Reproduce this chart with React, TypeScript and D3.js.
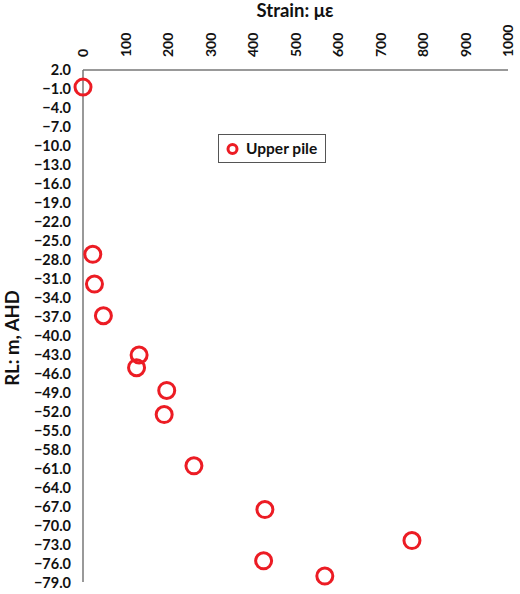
import { useMemo } from 'react';
import * as d3 from 'd3';

// Upper pile strain profile (strain in µε vs reduced level in m AHD)
const strain = [0, 23, 27, 48, 132, 126, 197, 191, 261, 428, 774, 425, 569];
const rl = [-0.7, -27.1, -31.8, -36.8, -43.0, -45.0, -48.6, -52.4, -60.5, -67.4, -72.3, -75.5, -77.9];

const xTicks = [0, 100, 200, 300, 400, 500, 600, 700, 800, 900, 1000];
const yTicks = [2, -1, -4, -7, -10, -13, -16, -19, -22, -25, -28, -31, -34, -37, -40, -43, -46, -49, -52, -55, -58, -61, -64, -67, -70, -73, -76, -79];

const seriesName = 'Upper pile';
const xTitle = 'Strain: με';
const yTitle = 'RL: m, AHD';

const W = 520;
const H = 594;
const RED = '#EC1C24';
const AXIS = '#777777';
const FONT = 'Lato, "Open Sans", sans-serif';

export default function App() {
  const x = useMemo(() => d3.scaleLinear().domain([0, 1000]).range([83, 508]), []);
  const y = useMemo(() => d3.scaleLinear().domain([2, -79]).range([70, 583]), []);
  const fmt = d3.format('.1f');

  return (
    <div style={{ position: 'absolute', left: 0, top: 0 }}>
      <svg width={W} height={H} style={{ display: 'block', fontFamily: FONT }}>
        <rect width={W} height={H} fill="#fff" />

        {/* axes lines */}
        <line x1={x(0)} x2={x(1000)} y1={y(2)} y2={y(2)} stroke={AXIS} strokeWidth={1.5} />
        <line x1={x(0)} x2={x(0)} y1={y(2)} y2={y(-79) - 1} stroke={AXIS} strokeWidth={1.5} />

        {/* x tick labels, rotated */}
        {xTicks.map((t) => (
          <text
            key={t}
            transform={`translate(${x(t) + 5},57) rotate(-90)`}
            fontSize={14}
            fontWeight={700}
            fill="#111"
          >
            {t}
          </text>
        ))}

        {/* y tick labels */}
        {yTicks.map((t) => (
          <text
            key={t}
            x={71}
            y={y(t)}
            dy="0.35em"
            textAnchor="end"
            fontSize={14.5}
            fontWeight={700}
            fill="#111"
          >
            {fmt(t)}
          </text>
        ))}

        {/* titles */}
        <text x={295} y={17} textAnchor="middle" fontSize={18.5} fontWeight={700} fill="#111">
          {xTitle}
        </text>
        <text
          transform={`translate(19,338) rotate(-90)`}
          textAnchor="middle"
          fontSize={18.5}
          fontWeight={700}
          fill="#111"
        >
          {yTitle}
        </text>

        {/* points */}
        {strain.map((s, i) => (
          <circle key={i} cx={x(s)} cy={y(rl[i])} r={8} fill="none" stroke={RED} strokeWidth={3} />
        ))}

        {/* legend */}
        <g>
          <rect x={218.5} y={134.5} width={107} height={28} fill="#fff" stroke="#555" strokeWidth={1} />
          <circle cx={232.5} cy={149} r={4.5} fill="none" stroke={RED} strokeWidth={3} />
          <text x={246} y={149} dy="0.35em" fontSize={15.5} fontWeight={700} fill="#111">
            {seriesName}
          </text>
        </g>
      </svg>
    </div>
  );
}
